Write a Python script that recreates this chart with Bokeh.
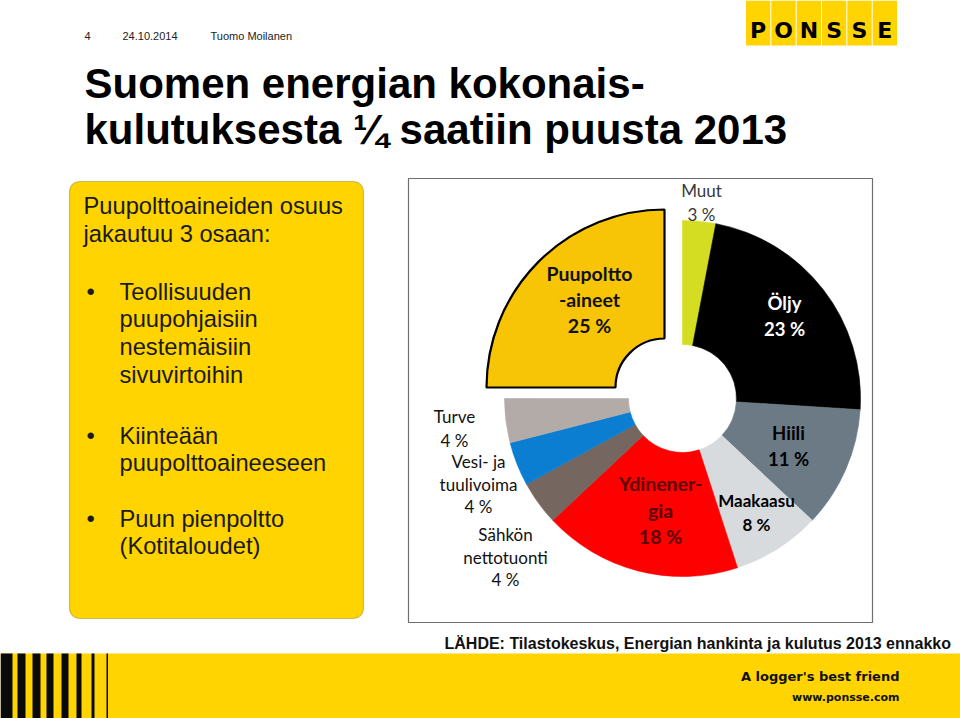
import numpy as np
from bokeh.plotting import figure
from bokeh.models import Range1d, ColumnDataSource, BoxAnnotation
from bokeh.core.properties import value
from bokeh.embed import file_html
from bokeh.resources import INLINE

# ---------------- data ----------------
categories = ["Muut", "Öljy", "Hiili", "Maakaasu", "Ydinenergia",
              "Sähkön nettotuonti", "Vesi- ja tuulivoima", "Turve", "Puupolttoaineet"]
shares = [3, 23, 11, 8, 18, 4, 4, 4, 25]
label_names = [["Muut"], ["Öljy"], ["Hiili"], ["Maakaasu"], ["Ydinener-", "gia"],
               ["Sähkön", "nettotuonti"], ["Vesi- ja", "tuulivoima"], ["Turve"],
               ["Puupoltto", "-aineet"]]
exploded = ["Puupolttoaineet"]

title_lines = ["Suomen energian kokonais-", "kulutuksesta ¼ saatiin puusta 2013"]
header_items = ["4", "24.10.2014", "Tuomo Moilanen"]
box_intro = ["Puupolttoaineiden osuus", "jakautuu 3 osaan:"]
box_bullets = [["Teollisuuden", "puupohjaisiin", "nestemäisiin", "sivuvirtoihin"],
               ["Kiinteään", "puupolttoaineeseen"],
               ["Puun pienpoltto", "(Kotitaloudet)"]]
source_text = "LÄHDE: Tilastokeskus, Energian hankinta ja kulutus 2013 ennakko"
logo_text = "PONSSE"
slogan = "A logger's best friend"
url = "www.ponsse.com"

# ---------------- styles ----------------
slice_colors = ["#d5dd22", "#000000", "#6b7a85", "#d8dbde", "#fe0000",
                "#75665f", "#0b7ed2", "#b3aba8", "#f7c505"]
YELLOW = "#ffd400"

W, H = 960, 718
def Y(py):
    return H - py

p = figure(width=W, height=H, x_range=Range1d(0, W), y_range=Range1d(0, H),
           output_backend="svg", toolbar_location=None, min_border=0,
           background_fill_color="white", border_fill_color="white")
p.axis.visible = False
p.grid.visible = False
p.outline_line_color = None

def txt(x, py, s, size, color="#000000", bold=False, font="Liberation Sans",
        align="center", baseline="middle"):
    p.text(x=[x], y=[Y(py)], text=[s], text_font=value(font),
           text_font_size=value(f"{size}px"),
           text_font_style="bold" if bold else "normal",
           text_color=color, text_align=align, text_baseline=baseline)

# ---------------- header ----------------
for s, x in zip(header_items, [84, 122, 210]):
    txt(x, 35, s, 11, "#222222", align="left")

# logo
n = len(logo_text)
lx0, lx1 = 745, 897
cw = (lx1 - lx0) / n
p.quad(left=[lx0 + i * cw + 0.5 for i in range(n)], right=[lx0 + (i + 1) * cw - 0.5 for i in range(n)],
       bottom=Y(45), top=Y(0), fill_color=YELLOW, line_color=None)
for i, ch in enumerate(logo_text):
    txt(lx0 + (i + 0.5) * cw, 30, ch, 22, "#000000", bold=True, font="DejaVu Sans")

# title
for i, s in enumerate(title_lines):
    txt(84, 83 + i * 46, s, 42, "#000000", bold=True, align="left")

# ---------------- left box ----------------
p.add_layout(BoxAnnotation(left=69, right=363, top=Y(181), bottom=Y(618),
                           fill_color=YELLOW, fill_alpha=1, line_color="#5b4d00",
                           line_width=1.2, border_radius=10, level="underlay"))
BOX_FS = 23.7
for i, s in enumerate(box_intro):
    txt(83, 205 + i * 28, s, BOX_FS, "#1a1a1a", align="left")
bullet_y = [291, 435, 518]
for by, lines in zip(bullet_y, box_bullets):
    txt(86, by, "•", BOX_FS, "#1a1a1a", align="left")
    for j, s in enumerate(lines):
        txt(119, by + j * 27.8, s, BOX_FS, "#1a1a1a", align="left")

# ---------------- chart frame ----------------
p.quad(left=[408], right=[872], bottom=[Y(622)], top=[Y(178)],
       fill_color=None, line_color="#6e6e6e", line_width=1.2)

# ---------------- donut ----------------
frac = np.array(shares, dtype=float) / np.sum(shares)
cum = np.concatenate([[0.0], np.cumsum(frac)]) * 360.0
start_c, end_c = cum[:-1], cum[1:]
cx0, cy0 = 682, Y(398)
dx = np.array([-18.0 if c in exploded else 0.0 for c in categories])
dy = np.array([11.0 if c in exploded else 0.0 for c in categories])
inner = np.array([49.0 if c in exploded else 54.0 for c in categories])
src = ColumnDataSource(dict(
    x=cx0 + dx, y=cy0 + dy, inner=inner, outer=np.full(len(shares), 178.0),
    start=np.radians(90 - end_c), end=np.radians(90 - start_c),
    color=slice_colors, cat=categories,
    lc=["#000000" if c in exploded else col for c, col in zip(categories, slice_colors)],
    lw=[2.2 if c in exploded else 0.6 for c in categories]))
p.annular_wedge(x="x", y="y", inner_radius="inner", outer_radius="outer",
                start_angle="start", end_angle="end", direction="anticlock",
                fill_color="color", line_color="lc", line_width="lw", source=src)

# slice labels
FONT = "Lato"
label_spec = {
    "Muut":               dict(x=701, y=190, size=17, bold=False, color="#383838", dy=24),
    "Öljy":               dict(x=784, y=302, size=18.5, bold=True, color="#ffffff", dy=26),
    "Hiili":              dict(x=788, y=432, size=18.5, bold=True, color="#000000", dy=26),
    "Maakaasu":           dict(x=756, y=500, size=17, bold=True, color="#000000", dy=24),
    "Ydinenergia":        dict(x=660, y=483, size=19.5, bold=True, color="#600000", dy=26.5),
    "Sähkön nettotuonti": dict(x=505, y=534, size=17, bold=False, color="#111111", dy=22.5),
    "Vesi- ja tuulivoima": dict(x=478, y=461, size=17, bold=False, color="#111111", dy=22.5),
    "Turve":              dict(x=454, y=416, size=17, bold=False, color="#111111", dy=24),
    "Puupolttoaineet":    dict(x=589, y=273, size=19.5, bold=True, color="#111111", dy=26),
}
for c, sh, names in zip(categories, shares, label_names):
    sp = label_spec[c]
    lines = names + [f"{sh} %"]
    for j, s in enumerate(lines):
        txt(sp["x"], sp["y"] + j * sp["dy"], s, sp["size"], sp["color"], bold=sp["bold"], font=FONT)

# ---------------- source & footer ----------------
txt(444, 643, source_text, 16, "#111111", bold=True, align="left")
p.quad(left=[0], right=[W], bottom=[0], top=[Y(653)], fill_color=YELLOW, line_color=None)
stripe_l = [0, 17, 32, 46, 61, 76, 91, 106]
stripe_r = [12, 25, 40, 53, 68, 81, 94, 107.5]
p.quad(left=stripe_l, right=stripe_r, bottom=0, top=Y(653), fill_color="#0a0a0a", line_color=None)
txt(899, 676, slogan, 13, "#111111", bold=True, font="DejaVu Sans", align="right")
txt(899, 697, url, 11, "#111111", bold=True, font="DejaVu Sans", align="right")

open("out.html", "w").write(file_html(p, INLINE))
